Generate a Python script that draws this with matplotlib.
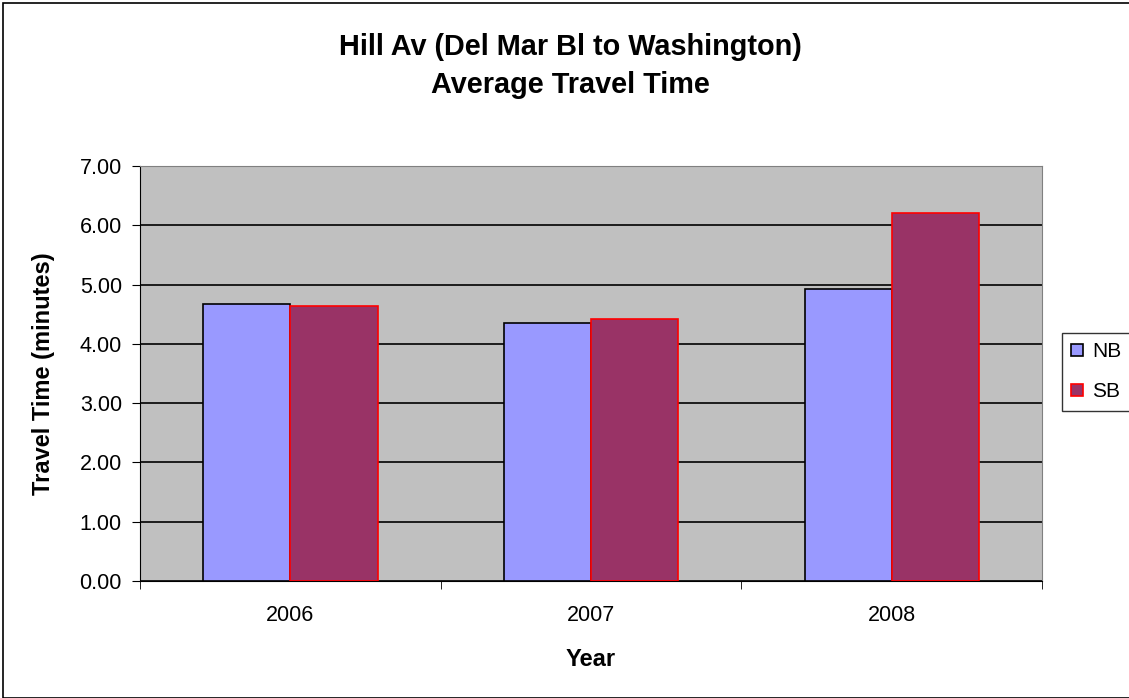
import matplotlib
matplotlib.use("Agg")
from matplotlib import pyplot as plt
from matplotlib.patches import Rectangle
import numpy as np

plt.rcParams['font.family'] = ['Liberation Sans', 'DejaVu Sans']

years = ['2006', '2007', '2008']
nb = [4.67, 4.36, 4.92]
sb = [4.64, 4.42, 6.21]

fig = plt.figure(figsize=(11.29, 6.98), dpi=100)
ax = fig.add_axes([0.124, 0.1676, 0.799, 0.5946])
ax.set_facecolor('#C0C0C0')

x = np.arange(len(years))
w = 0.29
ax.bar(x - w/2, nb, w, color='#9999FF', edgecolor='black', linewidth=1.2, label='NB', zorder=3)
ax.bar(x + w/2, sb, w, color='#993366', edgecolor='#FF0000', linewidth=1.2, label='SB', zorder=3)

ax.set_xlim(-0.5, 2.5)
ax.set_ylim(0, 7)
yt = np.arange(0, 7.01, 1)
ax.set_yticks(yt)
ax.set_yticklabels(['%.2f' % v for v in yt], fontsize=15.5)
ax.yaxis.grid(True, color='black', linewidth=1.2, zorder=0)
ax.set_axisbelow(True)

ax.set_xticks(x)
ax.set_xticklabels(years, fontsize=15.5)
ax.tick_params(axis='x', length=0, pad=17)
ax.set_xticks([-0.5, 0.5, 1.5, 2.5], minor=True)
ax.tick_params(axis='x', which='minor', length=6, direction='out', color='black')
ax.tick_params(axis='y', length=6, direction='out', color='black', pad=7)

for s in ['top', 'right']:
    ax.spines[s].set_color('#808080')
for s in ['left', 'bottom']:
    ax.spines[s].set_color('black')

ax.set_xlabel('Year', fontsize=17, fontweight='bold')
ax.xaxis.set_label_coords(0.5, -0.161)
ax.set_ylabel('Travel Time (minutes)', fontsize=17, fontweight='bold')
ax.yaxis.set_label_coords(-0.094, 0.5)

fig.text(0.505, 0.9212, 'Hill Av (Del Mar Bl to Washington)', ha='center', va='baseline',
         fontsize=20.8, fontweight='bold')
fig.text(0.505, 0.8668, 'Average Travel Time', ha='center', va='baseline',
         fontsize=20.8, fontweight='bold')

leg = fig.legend(loc='upper left', bbox_to_anchor=(0.9407, 0.523), borderaxespad=0,
                 fontsize=15, frameon=True, fancybox=False, edgecolor='black',
                 borderpad=0.45, handlelength=0.55, handleheight=0.55,
                 handletextpad=0.45, labelspacing=1.0)
leg.get_frame().set_linewidth(1.0)

fig.patches.append(Rectangle((0.003, 0.0), 1.1, 0.995, transform=fig.transFigure,
                             fill=False, edgecolor='black', linewidth=1.2))

fig.savefig('out.png', dpi=100)
